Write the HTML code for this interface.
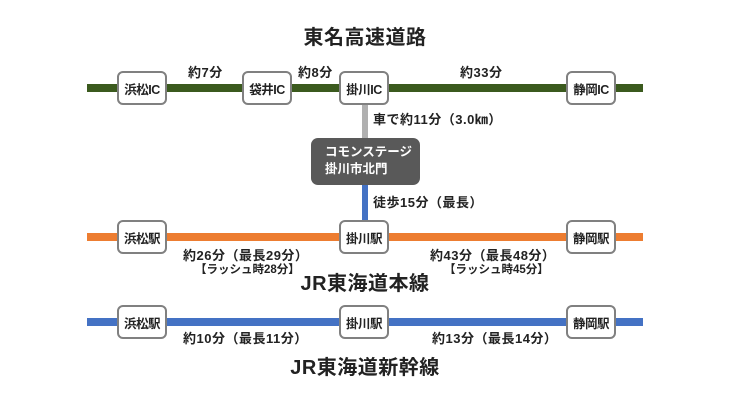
<!DOCTYPE html>
<html><head><meta charset="utf-8"><style>
body{margin:0;width:730px;height:410px;background:#fff;position:relative;overflow:hidden;font-family:"Liberation Sans","Noto Sans CJK JP",sans-serif;font-weight:bold;color:#222}
div{position:absolute;box-sizing:border-box}
.ln{height:8px;left:87px;width:556px}
.bx{background:#fff;border:2px solid #808080;border-radius:6px;width:50px;height:34px;display:flex;align-items:center;justify-content:center;font-size:12.5px;color:#222;letter-spacing:-0.5px}
.t{font-size:13px;white-space:nowrap;line-height:15px;letter-spacing:0.5px}
.h{font-size:20px;width:730px;text-align:center;left:0;line-height:24px;letter-spacing:0.5px}
</style></head><body>
<div class="h" style="top:26px">東名高速道路</div>
<div class="ln" style="top:84px;background:#3b5a1e"></div>
<div style="left:362px;top:104px;width:6px;height:36px;background:#b0b0b0"></div>
<div style="left:362px;top:184px;width:6px;height:38px;background:#4472c4"></div>
<div class="bx" style="left:117px;top:71px">浜松IC</div>
<div class="bx" style="left:242px;top:71px">袋井IC</div>
<div class="bx" style="left:339px;top:71px">掛川IC</div>
<div class="bx" style="left:566px;top:71px">静岡IC</div>
<div class="t" style="left:188px;top:65px">約7分</div>
<div class="t" style="left:298px;top:65px">約8分</div>
<div class="t" style="left:460px;top:65px">約33分</div>
<div class="t" style="left:373px;top:112px">車で約11分（3.0㎞）</div>
<div style="left:311px;top:138px;width:109px;height:47px;background:#595959;border-radius:7px;color:#fff;font-size:12.5px;line-height:17px;padding:6px 0 0 14px">コモンステージ<br>掛川市北門</div>
<div class="t" style="left:373px;top:195px">徒歩15分（最長）</div>
<div class="ln" style="top:233px;background:#ed7d31"></div>
<div class="bx" style="left:117px;top:220px">浜松駅</div>
<div class="bx" style="left:339px;top:220px">掛川駅</div>
<div class="bx" style="left:566px;top:220px">静岡駅</div>
<div class="t" style="left:183px;top:248px">約26分（最長29分）</div>
<div class="t" style="left:195px;top:263px;font-size:11.5px;letter-spacing:0">【ラッシュ時28分】</div>
<div class="t" style="left:430px;top:248px">約43分（最長48分）</div>
<div class="t" style="left:444px;top:263px;font-size:11.5px;letter-spacing:0">【ラッシュ時45分】</div>
<div class="h" style="top:272px">JR東海道本線</div>
<div class="ln" style="top:318px;background:#4472c4"></div>
<div class="bx" style="left:117px;top:305px">浜松駅</div>
<div class="bx" style="left:339px;top:305px">掛川駅</div>
<div class="bx" style="left:566px;top:305px">静岡駅</div>
<div class="t" style="left:183px;top:331px">約10分（最長11分）</div>
<div class="t" style="left:432px;top:331px">約13分（最長14分）</div>
<div class="h" style="top:356px">JR東海道新幹線</div>
</body></html>
